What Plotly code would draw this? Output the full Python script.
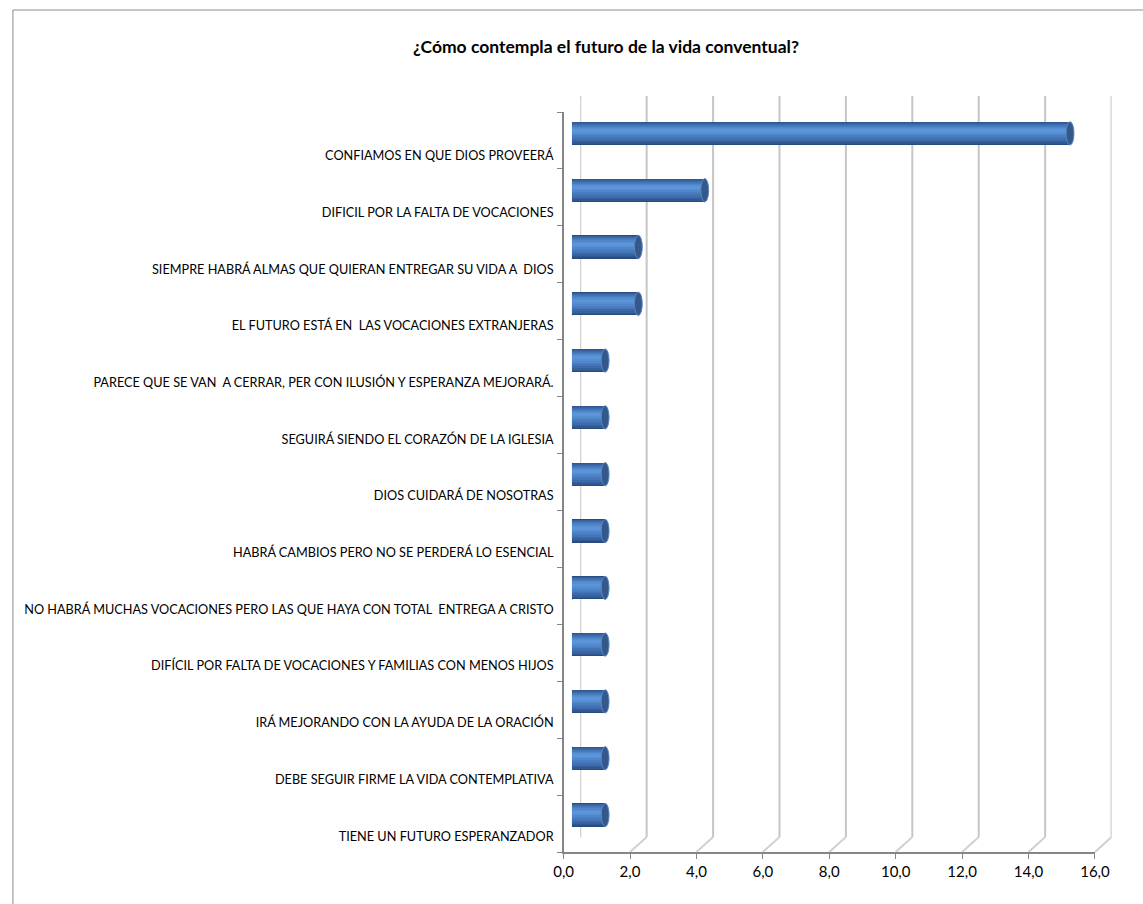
import plotly.graph_objects as go

# Survey answers (top to bottom) and their share
categories = [
    "CONFIAMOS EN QUE DIOS PROVEERÁ",
    "DIFICIL POR LA FALTA DE VOCACIONES",
    "SIEMPRE HABRÁ ALMAS QUE QUIERAN ENTREGAR SU VIDA A  DIOS",
    "EL FUTURO ESTÁ EN  LAS VOCACIONES EXTRANJERAS",
    "PARECE QUE SE VAN  A CERRAR, PER CON ILUSIÓN Y ESPERANZA MEJORARÁ.",
    "SEGUIRÁ SIENDO EL CORAZÓN DE LA IGLESIA",
    "DIOS CUIDARÁ DE NOSOTRAS",
    "HABRÁ CAMBIOS PERO NO SE PERDERÁ LO ESENCIAL",
    "NO HABRÁ MUCHAS VOCACIONES PERO LAS QUE HAYA CON TOTAL  ENTREGA A CRISTO",
    "DIFÍCIL POR FALTA DE VOCACIONES Y FAMILIAS CON MENOS HIJOS",
    "IRÁ MEJORANDO CON LA AYUDA DE LA ORACIÓN",
    "DEBE SEGUIR FIRME LA VIDA CONTEMPLATIVA",
    "TIENE UN FUTURO ESPERANZADOR",
]
values = [15.0, 4.0, 2.0, 2.0, 1.0, 1.0, 1.0, 1.0, 1.0, 1.0, 1.0, 1.0, 1.0]
x_ticks = [0, 2, 4, 6, 8, 10, 12, 14, 16]

W, H = 1143, 904


def fx(px):
    return px / W


def fy(py):
    return 1 - py / H


n = len(categories)
pos = list(range(n))
XMAX = 16
UNIT = 33.95                      # pixels per unit on every depth plane
SPAN = UNIT * XMAX
FRONT_X0, BACK_X0, MID_X0 = 566, 583, 574.5
DEPTH_X = (BACK_X0 - FRONT_X0) / UNIT   # oblique shift of back wall, in axis units

fig = go.Figure()

# invisible anchors so every axis pair is laid out
fig.add_trace(go.Scatter(x=[0], y=[0], xaxis="x", yaxis="y", mode="markers",
                         marker=dict(opacity=0), hoverinfo="skip", showlegend=False))
fig.add_trace(go.Scatter(x=[0], y=[0], xaxis="x2", yaxis="y2", mode="markers",
                         marker=dict(opacity=0), hoverinfo="skip", showlegend=False))
fig.add_trace(go.Scatter(x=[0] * n, y=categories, xaxis="x3", yaxis="y4", mode="markers",
                         marker=dict(opacity=0), hoverinfo="skip", showlegend=False))

# cylinder bars: stacked layers of narrowing width give the round shading
layers = [
    (0.41, 0.000, "#2a4c7d"),
    (0.38, 0.008, "#30578f"),
    (0.345, 0.014, "#36619d"),
    (0.30, 0.020, "#3c6aab"),
    (0.25, 0.027, "#4374b7"),
    (0.20, 0.034, "#497dc1"),
    (0.15, 0.040, "#5086ca"),
    (0.10, 0.046, "#568ed2"),
    (0.05, 0.050, "#5b94d8"),
]
for w, shift, col in layers:
    fig.add_trace(go.Bar(
        x=values, y=pos, orientation="h", xaxis="x3", yaxis="y3",
        width=w, offset=-w / 2 - shift, marker=dict(color=col, line=dict(width=0)),
        hoverinfo="x+y", showlegend=False,
    ))

shapes = []
BAR_H = 0.41
CAP_R = 4 / UNIT
for i, v in enumerate(values):
    # rounded left end
    shapes.append(dict(type="circle", xref="x3", yref="y3", layer="between",
                       x0=-CAP_R, x1=CAP_R, y0=i - BAR_H / 2, y1=i + BAR_H / 2,
                       fillcolor="#3d6aa8", line=dict(width=0)))
    # flat right end seen in perspective
    shapes.append(dict(type="circle", xref="x3", yref="y3", layer="above",
                       x0=v - CAP_R, x1=v + CAP_R, y0=i - BAR_H / 2, y1=i + BAR_H / 2,
                       fillcolor="#34588b", line=dict(color="#5a85bf", width=1)))

# back wall grid
for v in x_ticks:
    shapes.append(dict(type="line", xref="x2", yref="paper", layer="below",
                       x0=v, y0=fy(837), x1=v, y1=fy(96),
                       line=dict(color="#c6c6c6", width=2)))
# floor lines joining the front axis ticks to the back wall grid
for v in x_ticks:
    shapes.append(dict(type="line", xref="x2", yref="paper", layer="below",
                       x0=v - DEPTH_X, y0=fy(852), x1=v, y1=fy(837),
                       line=dict(color="#d0d0d0", width=2)))
# top edge of the side wall
shapes.append(dict(type="line", xref="x2", yref="paper", layer="below",
                   x0=-DEPTH_X, y0=fy(112), x1=0, y1=fy(96),
                   line=dict(color="#9a9a9a", width=1.5)))
# chart frame (right and bottom edges run past the page)
shapes.append(dict(type="rect", xref="paper", yref="paper", layer="below",
                   x0=fx(3), y0=fy(920), x1=fx(1160), y1=fy(10),
                   line=dict(color="#8c8c8c", width=1)))

axis_off = dict(showgrid=False, zeroline=False, showline=False, showticklabels=False, ticks="")

fig.update_layout(
    width=W, height=H, autosize=False,
    margin=dict(l=0, r=0, t=0, b=0),
    paper_bgcolor="white", plot_bgcolor="rgba(0,0,0,0)",
    separators=", ",
    barmode="overlay",
    bargap=0,
    font=dict(family="Lato, Carlito, Calibri, sans-serif", size=12, color="#000000"),
    title=dict(text="<b>¿Cómo contempla el futuro de la vida conventual?</b>",
               x=fx(606), y=fy(47), xanchor="center", yanchor="middle",
               font=dict(family="Lato, sans-serif", size=17.5, color="#000000")),
    # front plane: value axis with labels and the side-wall edge
    xaxis=dict(domain=[fx(FRONT_X0), fx(FRONT_X0 + SPAN)], range=[0, XMAX], anchor="y",
               tickvals=x_ticks, tickformat=".1f", ticks="outside", ticklen=5,
               tickcolor="#868686", showline=True, linecolor="#868686", linewidth=1.5,
               showgrid=False, zeroline=False, tickfont=dict(size=15)),
    yaxis=dict(domain=[fy(852), fy(112)], range=[0, n], anchor="x",
               tickvals=list(range(n + 1)), ticks="outside", ticklen=5,
               tickcolor="#868686", showline=True, linecolor="#868686", linewidth=1.5,
               showticklabels=False, showgrid=False, zeroline=False),
    # back wall
    xaxis2=dict(domain=[fx(BACK_X0), fx(BACK_X0 + SPAN)], range=[0, XMAX], anchor="y2", **axis_off),
    yaxis2=dict(domain=[fy(837), fy(96)], range=[0, 1], anchor="x2", **axis_off),
    # middle depth where the cylinders sit
    xaxis3=dict(domain=[fx(MID_X0), fx(MID_X0 + SPAN)], range=[0, XMAX], anchor="y3", **axis_off),
    yaxis3=dict(domain=[fy(843.4), fy(105)], range=[n - 0.5, -0.5], anchor="x3", **axis_off),
    # category labels along the front edge
    yaxis4=dict(domain=[fy(864.4), fy(127.6)], type="category",
                categoryorder="array", categoryarray=categories,
                range=[n - 0.5, -0.5], anchor="free", position=fx(FRONT_X0), side="left",
                showgrid=False, zeroline=False, showline=False, ticks="",
                ticklabelstandoff=10, tickfont=dict(size=12.7)),
    shapes=shapes,
)

fig.write_html("out.html")
